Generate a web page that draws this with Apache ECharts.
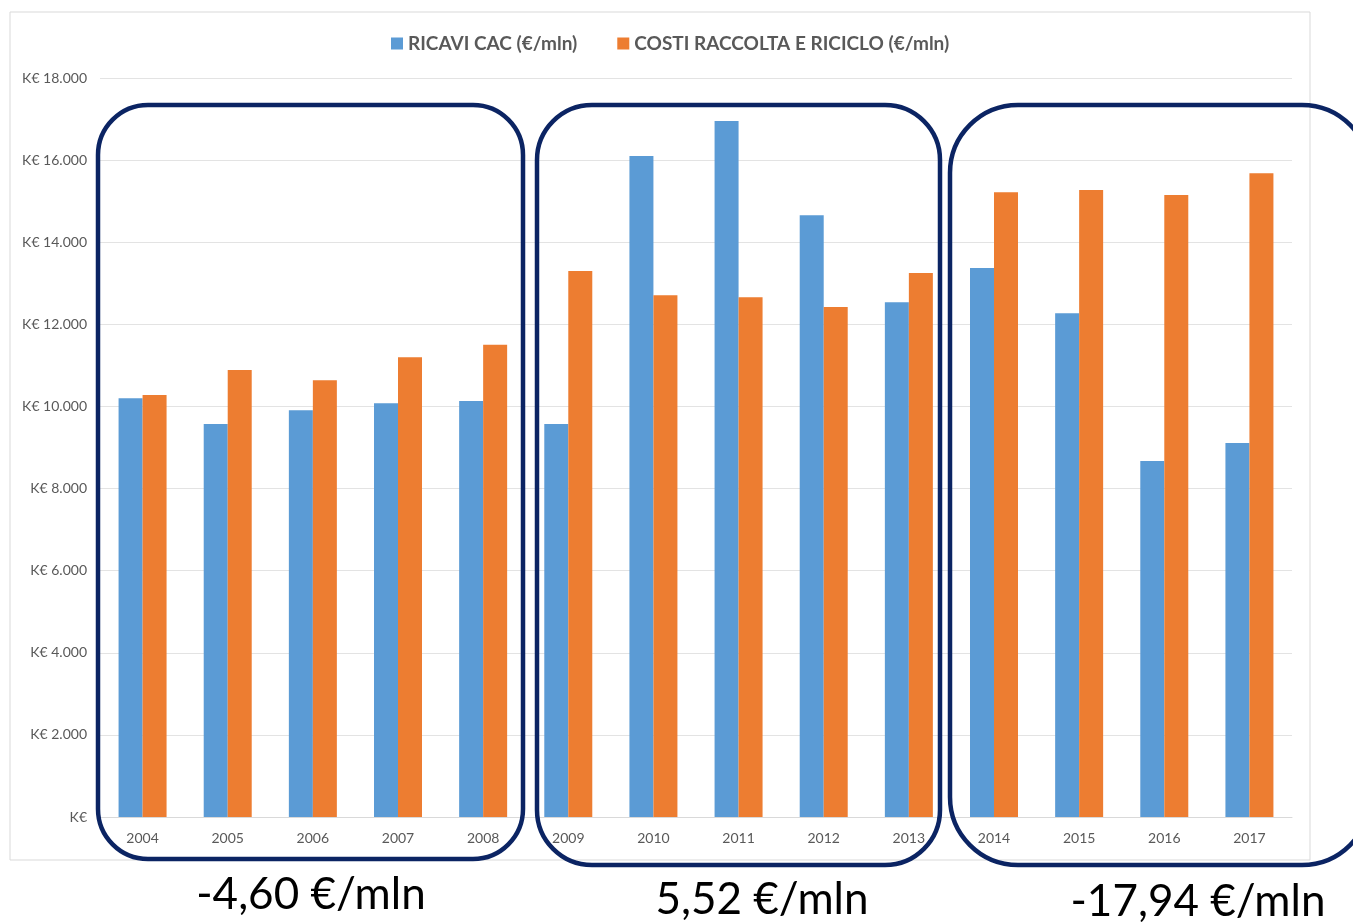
<!DOCTYPE html>
<html>
<head>
<meta charset="utf-8">
<script src="https://cdn.jsdelivr.net/npm/echarts@6/dist/echarts.min.js"></script>
<style>html,body{margin:0;padding:0;background:#fff;}#c{width:1353px;height:923px;}</style>
</head>
<body>
<div id="c"></div>
<script>
const years = ['2004','2005','2006','2007','2008','2009','2010','2011','2012','2013','2014','2015','2016','2017'];
const ricavi = [10200, 9570, 9910, 10080, 10130, 9570, 16100, 16950, 14660, 12540, 13370, 12270, 8670, 9110];
const costi = [10280, 10890, 10640, 11200, 11500, 13300, 12710, 12660, 12420, 13250, 15220, 15270, 15150, 15680];
const seriesNames = ['RICAVI CAC (€/mln)', 'COSTI RACCOLTA E RICICLO (€/mln)'];
const annotations = ['-4,60 €/mln', '5,52 €/mln', '-17,94 €/mln'];

const chart = echarts.init(document.getElementById('c'));
const navy = '#0b2463';
function fmt(v){
  if (v === 0) return 'K€';
  return 'K€ ' + String(v).replace(/\B(?=(\d{3})+(?!\d))/g, '.');
}
chart.setOption({
  backgroundColor: '#fff',
  animation: false,
  textStyle: { fontFamily: 'Lato, "Open Sans", sans-serif' },
  legend: {
    top: 29, left: 386,
    itemWidth: 12, itemHeight: 12, itemGap: 40,
    icon: 'rect',
    textStyle: { color: '#595959', fontSize: 19, fontWeight: 'bold', fontFamily: 'Lato' },
    data: seriesNames
  },
  grid: { left: 100, right: 61, top: 78, bottom: 106, containLabel: false },
  xAxis: {
    type: 'category', data: years,
    axisLine: { lineStyle: { color: '#d9d9d9' } },
    axisTick: { show: false },
    axisLabel: { color: '#595959', fontSize: 14, margin: 14 }
  },
  yAxis: {
    type: 'value', min: 0, max: 18000, interval: 2000,
    axisLine: { show: false }, axisTick: { show: false },
    splitLine: { lineStyle: { color: '#e3e3e3' } },
    axisLabel: { color: '#595959', fontSize: 14, margin: 13, formatter: fmt }
  },
  series: [
    { name: seriesNames[0], type: 'bar', data: ricavi, barWidth: 24, barGap: '0%', itemStyle: { color: '#5B9BD5' } },
    { name: seriesNames[1], type: 'bar', data: costi, barWidth: 24, itemStyle: { color: '#ED7D31' } }
  ],
  graphic: [
    { type: 'rect', z: -1, shape: { x: 10, y: 12, width: 1300, height: 848 }, style: { fill: 'none', stroke: '#d9d9d9', lineWidth: 1 } },
    { type: 'rect', z: 100, shape: { x: 98, y: 105, width: 425, height: 754, r: 50 }, style: { fill: 'none', stroke: navy, lineWidth: 4.5 } },
    { type: 'rect', z: 100, shape: { x: 537, y: 105, width: 403, height: 760, r: 55 }, style: { fill: 'none', stroke: navy, lineWidth: 4.5 } },
    { type: 'rect', z: 100, shape: { x: 950, y: 105, width: 420, height: 760, r: 68 }, style: { fill: 'none', stroke: navy, lineWidth: 4.5 } },
    { type: 'text', z: 100, x: 311, y: 895, style: { text: annotations[0], fill: '#000', font: '44px Lato', textAlign: 'center', textVerticalAlign: 'middle' } },
    { type: 'text', z: 100, x: 762, y: 900, style: { text: annotations[1], fill: '#000', font: '44px Lato', textAlign: 'center', textVerticalAlign: 'middle' } },
    { type: 'text', z: 100, x: 1198, y: 902, style: { text: annotations[2], fill: '#000', font: '44px Lato', textAlign: 'center', textVerticalAlign: 'middle' } }
  ]
});
</script>
</body>
</html>
